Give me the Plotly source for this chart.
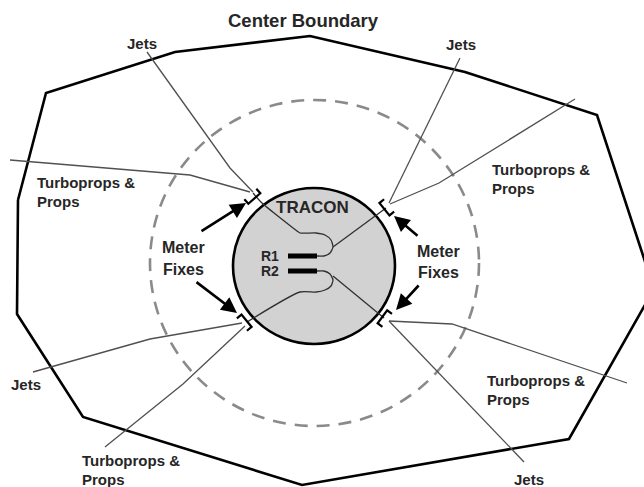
import numpy as np
import plotly.graph_objects as go

# ---------------- data (diagram coordinates, image pixel space) ----------------
boundary_x = [18, 46, 175, 310, 465, 597, 654, 569, 302, 83, 17, 18]
boundary_y = [200, 93, 52, 36, 72, 115, 289, 439, 485, 417, 314, 200]

tracon_center = (314, 266)
tracon_radius_x = [233, 395]
tracon_radius_y = [188, 344]
dashed_x = [150, 479]
dashed_y = [100, 426]

# outer arrival routes (polylines)
route_names = ["TL jets", "TL turbo", "TR jets", "TR turbo", "BL jets", "BL turbo", "BR turbo", "BR jets"]
route_xs = [[147, 230, 253], [10, 190, 250], [460, 389], [575, 439, 390],
            [33, 150, 242], [105, 183, 245], [389, 452, 627], [389, 524]]
route_ys = [[52, 168, 192], [160, 175, 192], [58, 203], [99, 183, 204],
            [372, 339, 323], [447, 384, 326], [321, 324, 383], [321, 462]]

# inner routes to runways
inner_xs = [[253, 262, 297, 300, 316, 325, 331, 333, 330, 324, 317],
            [386, 333],
            [317, 324, 330, 333, 331, 325, 316, 300, 247],
            [333, 384]]
inner_ys = [[193, 203, 231, 233, 233, 235, 240, 247, 253, 256, 256],
            [208, 247],
            [271, 271, 274, 280, 286, 290, 292, 292, 322],
            [276, 318]]

runway_labels = ["R1", "R2"]
runway_x = [[288, 317], [288, 317]]
runway_y = [[256, 256], [271, 271]]

meter_fix_x = [253, 386, 245, 384]
meter_fix_y = [197, 208, 322, 318]

arrow_head_x = [246, 394, 237, 396]
arrow_head_y = [203, 216, 313, 310]
arrow_tail_x = [200, 419, 195, 420]
arrow_tail_y = [232, 237, 281, 284]

jets_label_x = [142, 461, 26, 529]
jets_label_y = [43, 44, 384, 479]
turbo_label_x = [35, 490, 80, 485]
turbo_label_y = [182, 169, 460, 380]

# ---------------- figure ----------------
fig = go.Figure()
TXT = "#262626"
ROUTE = "#505050"

# boundary
fig.add_trace(go.Scatter(x=boundary_x, y=boundary_y, mode="lines",
                         line=dict(color="black", width=2.6), hoverinfo="skip"))
# routes
for xs, ys in zip(route_xs, route_ys):
    fig.add_trace(go.Scatter(x=xs, y=ys, mode="lines",
                             line=dict(color=ROUTE, width=1.3), hoverinfo="skip"))
for xs, ys in zip(inner_xs, inner_ys):
    fig.add_trace(go.Scatter(x=xs, y=ys, mode="lines", line_shape="spline",
                             line=dict(color="#303030", width=1.3, smoothing=0.6), hoverinfo="skip"))
# runways
for xs, ys in zip(runway_x, runway_y):
    fig.add_trace(go.Scatter(x=xs, y=ys, mode="lines",
                             line=dict(color="black", width=5), hoverinfo="skip"))

# meter fix brackets
cx, cy = tracon_center
for fx, fy in zip(meter_fix_x, meter_fix_y):
    v = np.array([fx - cx, fy - cy], float)
    u = v / np.linalg.norm(v)
    t = np.array([-u[1], u[0]])
    base = np.array([fx, fy], float) - u * 2
    p1 = base + t * 8
    p2 = base - t * 8
    pts = [p1 + u * 6, p1, p2, p2 + u * 6]
    fig.add_trace(go.Scatter(x=[p[0] for p in pts], y=[p[1] for p in pts], mode="lines",
                             line=dict(color="black", width=2.2), hoverinfo="skip"))

shapes = [
    dict(type="circle", xref="x", yref="y", x0=dashed_x[0], x1=dashed_x[1],
         y0=dashed_y[0], y1=dashed_y[1], line=dict(color="#8a8a8a", width=2.6, dash="13px,9px"),
         layer="below"),
    dict(type="circle", xref="x", yref="y", x0=tracon_radius_x[0], x1=tracon_radius_x[1],
         y0=tracon_radius_y[0], y1=tracon_radius_y[1], fillcolor="#d2d2d2",
         line=dict(color="black", width=2.6), layer="below"),
]

FONT = "Liberation Sans, Arial, sans-serif"
ann = []


def label(x, y, text, size=14, anchor="center"):
    ann.append(dict(x=x, y=y, xref="x", yref="y", text="<b>" + text + "</b>", showarrow=False,
                    xanchor=anchor, yanchor="middle", font=dict(family=FONT, size=size, color=TXT)))


label(303, 20, "Center Boundary", 18.5)
for x, y in zip(jets_label_x, jets_label_y):
    label(x, y, "Jets", 15)
for x, y in zip(turbo_label_x, turbo_label_y):
    label(x, y, "Turboprops &", 15, "left")
    label(x, y + 19, "Props", 15, "left")
label(312, 207, "TRACON", 17)
for name, ys in zip(runway_labels, runway_y):
    label(270, ys[0], name, 14)
label(183, 247, "Meter", 16)
label(183, 269, "Fixes", 16)
label(438, 251, "Meter", 16)
label(438, 272, "Fixes", 16)

for hx, hy, tx, ty in zip(arrow_head_x, arrow_head_y, arrow_tail_x, arrow_tail_y):
    ann.append(dict(x=hx, y=hy, ax=tx, ay=ty, xref="x", yref="y", axref="x", ayref="y",
                    text="", showarrow=True, arrowhead=2, arrowsize=1.2, arrowwidth=2.6,
                    arrowcolor="black"))

fig.update_layout(
    width=644, height=487, margin=dict(l=0, r=0, t=0, b=0),
    paper_bgcolor="white", plot_bgcolor="white", showlegend=False,
    xaxis=dict(range=[0, 644], visible=False, fixedrange=True),
    yaxis=dict(range=[487, 0], visible=False, fixedrange=True),
    shapes=shapes, annotations=ann,
)

fig.write_html("out.html", config={"displayModeBar": False},
               post_script="document.body.style.margin='0';document.body.style.overflow='hidden';")
